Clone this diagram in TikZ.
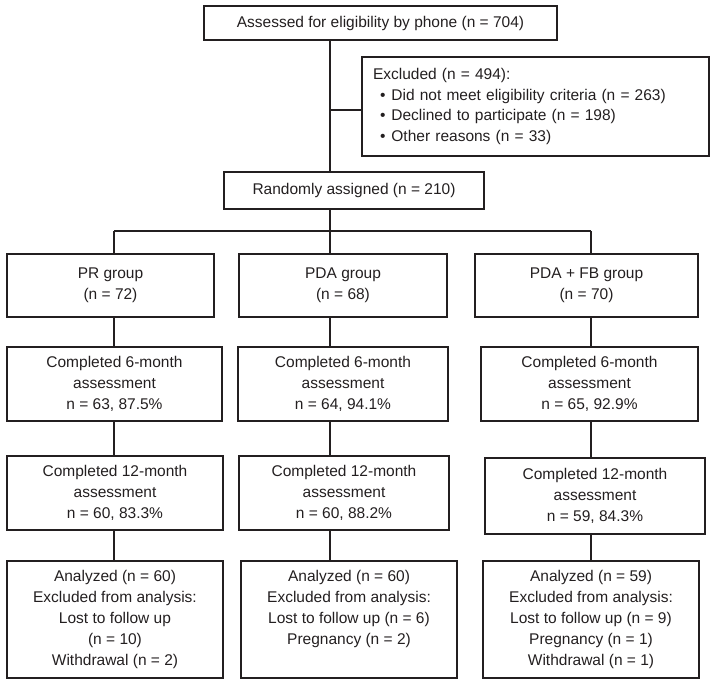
\documentclass[tikz,border=0pt]{standalone}
\usepackage{fontspec}
\setmainfont{Liberation Sans}
\definecolor{ink}{HTML}{231F20}
\begin{document}
\begin{tikzpicture}[x=1pt,y=-1pt,
  box/.style={draw=ink,line width=1.3pt,rectangle,inner sep=0pt,align=center,text=ink,
    font=\fontsize{15.5}{21}\selectfont},
  link/.style={draw=ink,line width=1.3pt}]
\useasboundingbox (0,0) rectangle (712,685);
% boxes
\node[box,minimum width=353pt,minimum height=34pt] (top) at (380.5,23) {Assessed for eligibility by phone (n = 704)};
\node[box,minimum height=99pt,text width=325pt,inner xsep=11pt,align=left,
  font=\fontsize{15.5}{20.7}\selectfont] (excl) at (535.5,106.5)
  {Excluded (n = 494):\\
   \hspace*{7pt}\textbullet\hspace{6pt}Did not meet eligibility criteria (n = 263)\\
   \hspace*{7pt}\textbullet\hspace{6pt}Declined to participate (n = 198)\\
   \hspace*{7pt}\textbullet\hspace{6pt}Other reasons (n = 33)};
\node[box,minimum width=260pt,minimum height=37pt] (rand) at (354,190.5) {Randomly assigned (n = 210)};
\node[box,minimum width=207pt,minimum height=63pt] (pr) at (110.5,285.5) {PR group\\(n = 72)};
\node[box,minimum width=208pt,minimum height=63pt] (pda) at (343,285.5) {PDA group\\(n = 68)};
\node[box,minimum width=223pt,minimum height=63pt] (fb) at (586.5,285.5) {PDA + FB group\\(n = 70)};
\node[box,minimum width=215pt,minimum height=74pt] (pr6) at (114.5,384) {Completed 6-month\\assessment\\n = 63, 87.5\%};
\node[box,minimum width=210pt,minimum height=74pt] (pda6) at (343,384) {Completed 6-month\\assessment\\n = 64, 94.1\%};
\node[box,minimum width=217pt,minimum height=74pt] (fb6) at (589.5,384) {Completed 6-month\\assessment\\n = 65, 92.9\%};
\node[box,minimum width=216pt,minimum height=74pt] (pr12) at (115,493) {Completed 12-month\\assessment\\n = 60, 83.3\%};
\node[box,minimum width=210pt,minimum height=74pt] (pda12) at (344,493) {Completed 12-month\\assessment\\n = 60, 88.2\%};
\node[box,minimum width=220pt,minimum height=76pt] (fb12) at (595,496) {Completed 12-month\\assessment\\n = 59, 84.3\%};
\node[box,minimum width=216pt,minimum height=117pt] (pra) at (115,619.5) {Analyzed (n = 60)\\Excluded from analysis:\\Lost to follow up\\(n = 10)\\Withdrawal (n = 2)};
\node[box,minimum width=216pt,minimum height=117pt] (pdaa) at (349,619.5) {Analyzed (n = 60)\\Excluded from analysis:\\Lost to follow up (n = 6)\\Pregnancy (n = 2)\\\phantom{W(}};
\node[box,minimum width=216pt,minimum height=117pt] (fba) at (591,619.5) {Analyzed (n = 59)\\Excluded from analysis:\\Lost to follow up (n = 9)\\Pregnancy (n = 1)\\Withdrawal (n = 1)};
% helper coordinates
\coordinate (sp) at (330,110);
\coordinate (barL) at (114,231);
\coordinate (barM) at (330,231);
\coordinate (barR) at (591,231);
% connectors
\draw[link] (top.south -| sp) -- (rand.north -| sp);
\draw[link] (sp) -- (sp -| excl.west);
\draw[link] (rand.south -| barM) -- (barM);
\draw[link] (barL) -- (barR);
\draw[link] (barL) -- (pr.north -| barL);
\draw[link] (barM) -- (pda.north -| barM);
\draw[link] (barR) -- (fb.north -| barR);
\draw[link] (pr.south -| barL) -- (pr6.north -| barL);
\draw[link] (pda.south -| barM) -- (pda6.north -| barM);
\draw[link] (fb.south -| barR) -- (fb6.north -| barR);
\draw[link] (pr6.south -| barL) -- (pr12.north -| barL);
\draw[link] (pda6.south -| barM) -- (pda12.north -| barM);
\draw[link] (fb6.south -| barR) -- (fb12.north -| barR);
\draw[link] (pr12.south -| barL) -- (pra.north -| barL);
\draw[link] (pda12.south -| barM) -- (pdaa.north -| barM);
\draw[link] (fb12.south -| barR) -- (fba.north -| barR);
\end{tikzpicture}
\end{document}
